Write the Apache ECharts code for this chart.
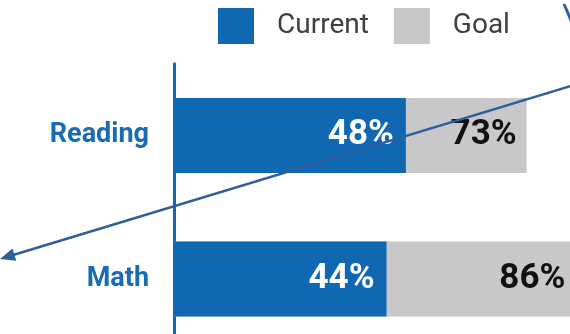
<!DOCTYPE html>
<html>
<head>
<meta charset="utf-8">
<script src="https://cdn.jsdelivr.net/npm/echarts@6/dist/echarts.min.js"></script>
<style>html,body{margin:0;padding:0;background:#fff}#c{width:570px;height:334px}</style>
</head>
<body>
<div id="c"></div>
<script>
const categories = ['Reading', 'Math'];
const currentValues = [48, 44];
const goalValues = [73, 86];
const seriesNames = ['Current', 'Goal'];

const BLUE = '#1168b2';
const GREY = '#c8c8ca';
const ARROW = '#2d5f9e';

const chart = echarts.init(document.getElementById('c'), null, {renderer: 'canvas'});

function arrowHead(tip, from, len, half) {
  const dx = tip[0] - from[0], dy = tip[1] - from[1];
  const L = Math.sqrt(dx * dx + dy * dy);
  const ux = dx / L, uy = dy / L;
  const bx = tip[0] - len * ux, by = tip[1] - len * uy;
  const nx = -uy, ny = ux;
  return [tip, [bx + half * nx, by + half * ny], [bx - half * nx, by - half * ny]];
}
const aStart = [574, 85], aTip = [0, 259];
const head = arrowHead(aTip, aStart, 15, 6.5);
const lineEnd = [aTip[0] + (aStart[0] - aTip[0]) * 12 / 600, aTip[1] + (aStart[1] - aTip[1]) * 12 / 600];

chart.setOption({
  animation: false,
  textStyle: {fontFamily: 'Roboto'},
  legend: {
    data: seriesNames,
    left: 218, top: 8, padding: 0,
    itemWidth: 36, itemHeight: 36, itemGap: 25,
    icon: 'rect',
    textStyle: {fontFamily: 'Roboto', fontSize: 28, color: '#404040', padding: [0, 0, 0, 18]}
  },
  grid: {left: 174, right: -87, top: 63.75, bottom: -16.75, containLabel: false, outerBoundsMode: 'none'},
  xAxis: {
    type: 'value', min: 0, max: 100,
    show: false
  },
  yAxis: {
    type: 'category', data: categories, inverse: true,
    axisLine: {show: true, lineStyle: {color: BLUE, width: 3}},
    axisTick: {show: false},
    axisLabel: {fontFamily: 'Roboto', fontWeight: 'bold', fontSize: 27, color: '#1a6ab4', margin: 25}
  },
  series: [
    {
      name: 'Goal', type: 'bar', data: goalValues.map((v, i) => ({
        value: v,
        label: {distance: i === 1 ? 24 : 10}
      })),
      barWidth: 75, barGap: '-100%', clip: false,
      itemStyle: {color: GREY},
      label: {show: true, position: 'insideRight', formatter: '{c}%', fontFamily: 'Roboto', fontWeight: 'bold', fontSize: 35, color: '#111'},
      z: 1
    },
    {
      name: 'Current', type: 'bar', data: currentValues,
      barWidth: 75, barGap: '-100%', clip: false,
      itemStyle: {color: BLUE},
      label: {show: true, position: 'insideRight', distance: 12, formatter: '{c}%', fontFamily: 'Roboto', fontWeight: 'bold', fontSize: 35, color: '#fff'},
      z: 2
    }
  ],
  graphic: [
    {type: 'line', shape: {x1: aStart[0], y1: aStart[1], x2: lineEnd[0], y2: lineEnd[1]}, style: {stroke: ARROW, lineWidth: 2.5}, z: 100},
    {type: 'polygon', shape: {points: head}, style: {fill: ARROW}, z: 100},
    {type: 'line', shape: {x1: 564, y1: 4, x2: 573, y2: 25}, style: {stroke: ARROW, lineWidth: 3}, z: 100}
  ]
});
</script>
</body>
</html>
